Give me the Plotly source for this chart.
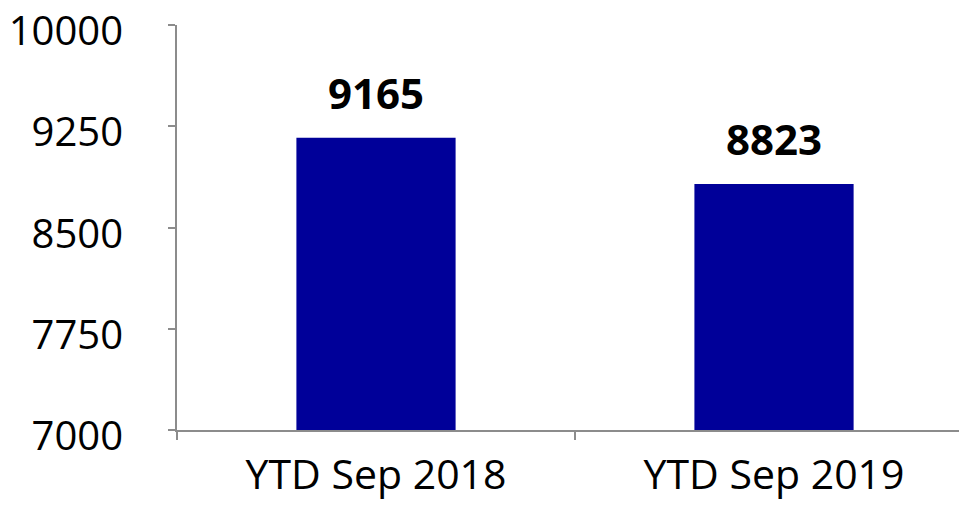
import plotly.graph_objects as go

categories = ["YTD Sep 2018", "YTD Sep 2019"]
values = [9165, 8823]
y_ticks = [7000, 7750, 8500, 9250, 10000]

FONT = "Open Sans"
AXIS_COLOR = "#8c8c8c"

fig = go.Figure()
fig.add_trace(go.Bar(
    x=categories, y=values,
    marker=dict(color="#000099", line=dict(width=0)),
    width=0.4,
))

for c, v in zip(categories, values):
    fig.add_annotation(
        x=c, y=v, text=f"<b>{v}</b>", showarrow=False,
        yanchor="bottom", yshift=15,
        font=dict(family=FONT, size=42, color="black"),
    )

fig.update_layout(
    width=967, height=510,
    margin=dict(l=169, r=0, t=17, b=88),
    paper_bgcolor="white", plot_bgcolor="white",
    showlegend=False,
    font=dict(family=FONT, size=42, color="black"),
    bargap=0.6,
)
fig.update_xaxes(
    range=[-0.5, 1.505],
    automargin=False,
    showline=True, linecolor=AXIS_COLOR, linewidth=2,
    ticks="outside", tickson="boundaries", ticklen=8, tickwidth=2, tickcolor=AXIS_COLOR,
    showgrid=False, zeroline=False,
    tickfont=dict(family=FONT, size=41, color="black"),
    ticklabelstandoff=8,
    ticklabeloverflow="allow",
)
fig.update_yaxes(
    range=[7000, 10000],
    automargin=False,
    tickvals=y_ticks, ticktext=[str(t) for t in y_ticks],
    showline=True, linecolor=AXIS_COLOR, linewidth=2,
    ticks="outside", ticklen=7, tickwidth=2, tickcolor=AXIS_COLOR,
    showgrid=False, zeroline=False,
    tickfont=dict(family=FONT, size=40, color="black"),
    ticklabelstandoff=37,
    ticklabelshift=6,
    ticklabeloverflow="allow",
)

fig.write_html("out.html")
